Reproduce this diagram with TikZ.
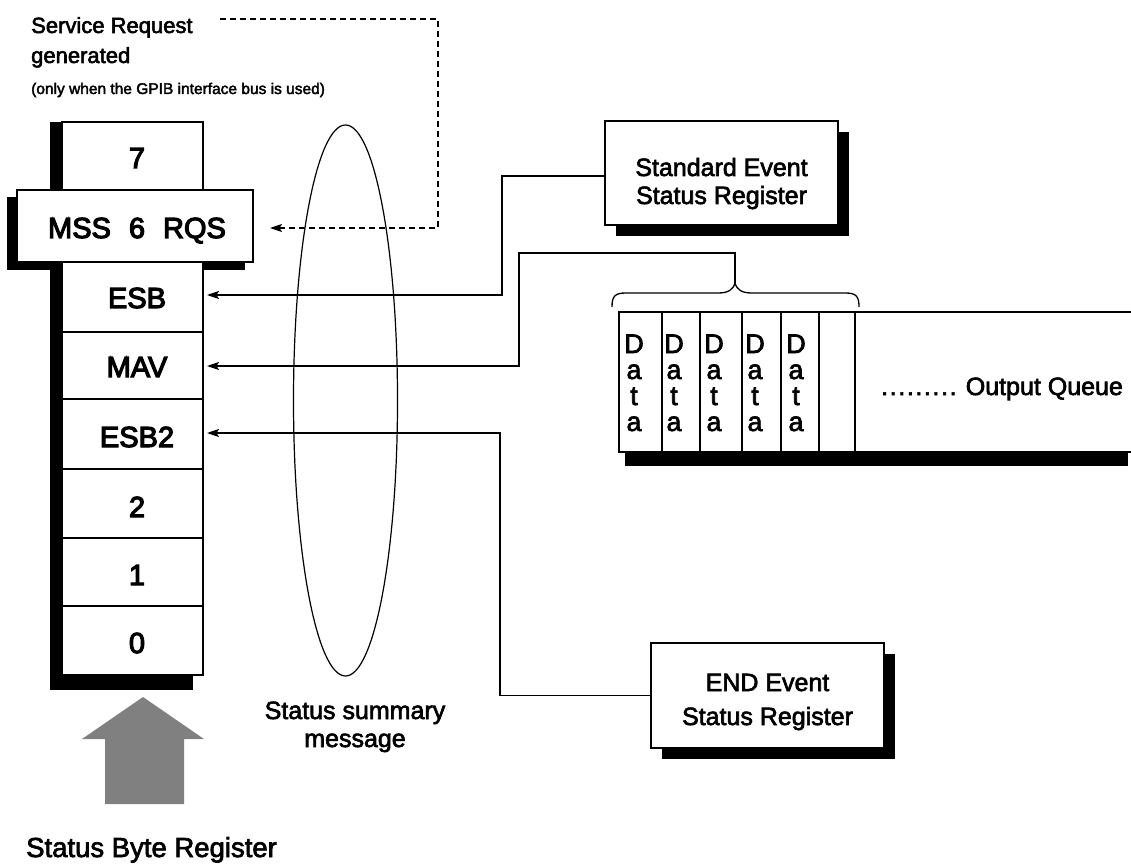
\documentclass[tikz,border=0pt]{standalone}
\usepackage{fontspec}
\setmainfont{Liberation Sans}[FakeBold=2.5]
\newfontfamily\regfont{Liberation Sans}[FakeBold=4]
\usetikzlibrary{arrows.meta,shadows,shapes.geometric}

\definecolor{arrowgray}{RGB}{128,128,128}
\newcommand\fsz[2]{\fontsize{#1}{#2}\selectfont}

\begin{document}
\begin{tikzpicture}[x=1pt,y=-1pt,
  conn/.style={line width=1.3pt},
  arr/.style={conn,-{Stealth[length=12pt,width=8pt,inset=2.5pt]}},
  lbl/.style={inner sep=0pt,anchor=base},
  reglbl/.style={lbl,font=\regfont\fsz{29}{34}},
  boxlbl/.style={lbl,align=center,font=\fsz{25}{28}},
  evbox/.style={draw,fill=white,line width=1.3pt,inner sep=0pt,
    minimum width=233pt,minimum height=104pt,
    drop shadow={shadow xshift=11pt,shadow yshift=-11pt,opacity=1,fill=black}},
  cellline/.style={line width=1.2pt},
]
\useasboundingbox (0,0) rectangle (1131,866);

% ---- Status byte register column ----
\fill (7,197) rectangle (245,270);          % shadow of the MSS/RQS bit
\fill (50,122) rectangle (193,690);         % shadow of the column
\draw[cellline,fill=white] (62,122) rectangle (203,675);
\foreach \y in {332,399,469,538,606} \draw[cellline] (62,\y) -- (203,\y);
\node[draw,fill=white,line width=1.3pt,inner sep=0pt,
      minimum width=236pt,minimum height=72pt] (mss) at (135,226) {};

\node[reglbl] (b7)   at (137,168) {7};
\node[reglbl] (b6)   at (137,238) {MSS\hspace{18pt}6\hspace{18pt}RQS};
\node[reglbl] (b5)   at (137,308) {ESB};
\node[reglbl] (b4)   at (137,377) {MAV};
\node[reglbl] (b3)   at (137,447) {ESB2};
\node[reglbl] (b2)   at (137,517) {2};
\node[reglbl] (b1)   at (137,585) {1};
\node[reglbl] (b0)   at (137,653) {0};

\coordinate (mssin)  at (270,228);
\coordinate (esbin)  at (207,295);
\coordinate (mavin)  at (207,366);
\coordinate (esb2in) at (207,433);

% ---- upward arrow and caption ----
\fill[arrowgray] (143,697) -- (204,739) -- (184,739) -- (184,804)
  -- (105,804) -- (105,739) -- (82,739) -- cycle;
\node[lbl,anchor=base west,font=\fsz{27.5}{32}] (sbr) at (26,857) {Status Byte Register};

% ---- service request note (base anchors sit on the last line) ----
\node[lbl,anchor=base west,align=left,font=\fsz{22}{30}] (srq) at (31,63)
  {Service Request\\generated};
\node[lbl,anchor=base west,font=\fsz{15.5}{18}] (gpib) at (31,94)
  {(only when the GPIB interface bus is used)};
\coordinate (srqout) at (220,19);
\draw[arr,line width=1.1pt,dash pattern=on 6pt off 4pt] (srqout) -- (438,19) |- (mssin);

% ---- status summary message ----
\node[draw,ellipse,line width=1.2pt,inner sep=0pt,
      minimum width=104pt,minimum height=551pt] (ssm) at (345.5,400.5) {};
\node[boxlbl] (ssmtext) at (355,747) {Status summary\\message};

% ---- event status registers ----
\node[evbox] (sesr) at (721.5,173) {};
\node[boxlbl] (sesrtext) at (721.5,204) {Standard Event\\Status Register};
\node[evbox,minimum height=105pt] (endb) at (767.5,695.5) {};
\node[boxlbl,font=\fsz{25}{34}] (endtext) at (767.5,725) {END Event\\Status Register};

% ---- output queue ----
\fill (625,452) rectangle (1128,466);
\draw[cellline] (1131,312) -- (619,312) -- (619,452) -- (1131,452);
\foreach \x in {662,700,742,781,819,855} \draw[cellline] (\x,312) -- (\x,452);
\foreach \x/\n in {634/1,674/2,714/3,755/4,796/5}
  \node[lbl,align=center,font=\fsz{27}{26}] (data\n) at (\x,431) {D\\a\\t\\a};
\node[lbl,anchor=base west,font=\fsz{25}{30}] (oq) at (881,395)
  {.\kern1.6pt.\kern1.6pt.\kern1.6pt.\kern1.6pt.\kern1.6pt.\kern1.6pt.\kern1.6pt.\kern1.6pt. Output Queue};

% brace over the queued data
\coordinate (bracetip) at (735,283);
\draw[conn] (612,307) .. controls (612,296) and (615,293) .. (626,293) -- (718,293)
  .. controls (728,293) and (733,290) .. (bracetip)
  .. controls (737,290) and (742,293) .. (752,293) -- (845,293)
  .. controls (856,293) and (859,296) .. (859,307);

% ---- connectors into the status byte ----
\draw[arr] ([yshift=-3pt]sesr.west) -- (502,176) |- (esbin);
\draw[arr] (bracetip) |- (519,253) |- (mavin);
\draw[arr] (endb.west) -- (500,695.5) |- (esb2in);
\end{tikzpicture}
\end{document}
